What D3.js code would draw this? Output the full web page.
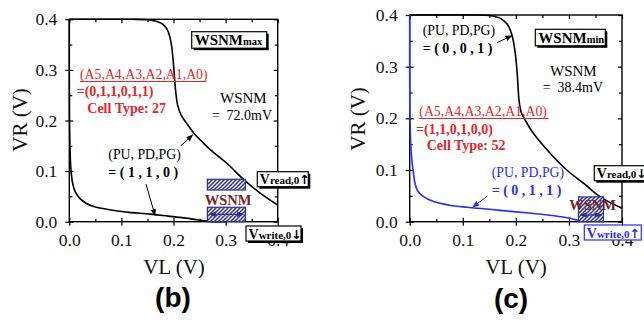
<!DOCTYPE html>
<html>
<head>
<meta charset="utf-8">
<script src="https://cdn.jsdelivr.net/npm/d3@7"></script>
<style>
    body {margin: 0; background: #fff;}
    svg {display: block;}
    text {font-family: "Liberation Serif", "Times New Roman", serif;}
</style>
</head>
<body>
<svg id="chart" width="644" height="322"></svg>
<script>
// ---- data ----
const majorTicks= [0, 0.1, 0.2, 0.3, 0.4]
const minorTicks= [0.05, 0.15, 0.25, 0.35]

// (b) butterfly curves, [VL, VR]
const readB= [[0,0.4],[0.12,0.4],[0.15,0.399],[0.17,0.395],[0.182,0.388],[0.19,0.375],[0.196,0.35],
    [0.2,0.31],[0.204,0.26],[0.208,0.23],[0.215,0.21],[0.227,0.192],[0.239,0.175],[0.255,0.158],
    [0.271,0.142],[0.303,0.115],[0.335,0.083],[0.367,0.056],[0.4,0.033]]
const writeB= [[0,0.4],[0.0003,0.22],[0.0015,0.14],[0.003,0.105],[0.006,0.078],[0.011,0.06],
    [0.021,0.045],[0.033,0.036],[0.047,0.03],[0.07,0.025],[0.092,0.021],[0.12,0.018],[0.155,0.015],
    [0.19,0.011],[0.22,0.0075],[0.245,0.004],[0.262,0.0015],[0.275,0],[0.3,0]]

// (c)
const readC= [[0,0.4],[0.12,0.4],[0.15,0.399],[0.17,0.394],[0.184,0.382],[0.193,0.36],[0.199,0.325],
    [0.203,0.28],[0.206,0.235],[0.21,0.212],[0.218,0.196],[0.233,0.171],[0.265,0.132],[0.296,0.1],
    [0.328,0.074],[0.359,0.048],[0.4,0.026]]
const writeC= [[0,0.4],[0.0003,0.22],[0.002,0.15],[0.004,0.12],[0.007,0.095],[0.01,0.074],
    [0.016,0.058],[0.024,0.05],[0.045,0.039],[0.075,0.032],[0.108,0.028],[0.14,0.025],[0.17,0.022],
    [0.2,0.019],[0.233,0.016],[0.26,0.013],[0.284,0.0097],[0.3,0.007],[0.315,0.0033],[0.338,0]]

// WSNM hatched windows, VL range and VR ranges
const wsnmB= {vl: [0.265, 0.338], boxes: [[0.0626, 0.0838], [0.0, 0.0285]], arrowVR: 0.0146}
const wsnmC= {vl: [0.318, 0.365], boxes: [[0.0, 0.048]], arrowVR: 0.013}

const svg= d3.select("#chart")
const RED= "#e3262d", BLUE= "#2c2cf2", NAVY= "#2f2f96", DARKRED= "#7a1f1f"

// ---- defs: hatch + arrow heads ----
const defs= svg.append("defs")
let pat= defs.append("pattern").attr("id", "hatch")
    .attr("patternUnits", "userSpaceOnUse").attr("width", 4).attr("height", 4)
pat.append("rect").attr("width", 4).attr("height", 4).attr("fill", "#fff")
pat.append("path").attr("d", "M-1,1 L1,-1 M0,4 L4,0 M3,5 L5,3")
    .attr("stroke", NAVY).attr("stroke-width", 1.5)

function marker(id, color) {
    defs.append("marker").attr("id", id)
        .attr("viewBox", "0 0 10 10").attr("refX", 9).attr("refY", 5)
        .attr("markerWidth", 7).attr("markerHeight", 7).attr("orient", "auto-start-reverse")
        .attr("markerUnits", "userSpaceOnUse")
        .append("path").attr("d", "M0,1 L10,5 L0,9 z").attr("fill", color)
}
marker("ah-black", "#000")
marker("ah-blue", BLUE)
marker("ah-navy", NAVY)

// ---- helpers ----
function shadowBox(g, x0, y0, w, h, stroke, shadow=true) {
    if(shadow) {
        g.append("rect").attr("x", x0+2).attr("y", y0+2).attr("width", w).attr("height", h).attr("fill", "#000")
    }
    g.append("rect").attr("x", x0).attr("y", y0).attr("width", w).attr("height", h)
        .attr("fill", "#fff").attr("stroke", stroke).attr("stroke-width", 1.2)
}

function label(g, x0, y0, parts, {color="#000", anchor="start", weight="normal"}={}) {
    let t= g.append("text").attr("x", x0).attr("y", y0).attr("fill", color)
        .attr("text-anchor", anchor).attr("font-weight", weight).style("white-space", "pre")
    parts.forEach(([s, size, extra]) => {
        let sp= t.append("tspan").attr("font-size", size).text(s)
        if(extra) sp.style("font-family", extra)
    })
    return t
}

function drawPanel(p) {
    const x= d3.scaleLinear().domain([0, 0.4]).range([p.left, p.right])
    const y= d3.scaleLinear().domain([0, 0.4]).range([p.bottom, p.top])
    const g= svg.append("g")
    const fmt= d3.format(".1f")

    // axes: labelled ticks crossing the frame, minor ticks inside
    let ax= g.append("g").attr("transform", `translate(0,${p.bottom})`)
    ax.call(d3.axisBottom(x).tickValues(majorTicks).tickSize(4).tickPadding(8).tickFormat(fmt))
    ax.append("g").call(d3.axisBottom(x).tickValues(majorTicks).tickSize(-4).tickFormat(""))
    ax.append("g").call(d3.axisBottom(x).tickValues(minorTicks).tickSize(-3).tickFormat(""))

    let ay= g.append("g").attr("transform", `translate(${p.left},0)`)
    ay.call(d3.axisLeft(y).tickValues(majorTicks).tickSize(4).tickPadding(8).tickFormat(fmt))
    ay.append("g").call(d3.axisLeft(y).tickValues(majorTicks).tickSize(-4).tickFormat(""))
    ay.append("g").call(d3.axisLeft(y).tickValues(minorTicks).tickSize(-3).tickFormat(""))

    let at= g.append("g").attr("transform", `translate(0,${p.top})`)
    at.call(d3.axisTop(x).tickValues(majorTicks).tickSize(-4).tickFormat(""))
    at.append("g").call(d3.axisTop(x).tickValues(minorTicks).tickSize(-3).tickFormat(""))
    let ar= g.append("g").attr("transform", `translate(${p.right},0)`)
    ar.call(d3.axisRight(y).tickValues(majorTicks).tickSize(-4).tickFormat(""))
    ar.append("g").call(d3.axisRight(y).tickValues(minorTicks).tickSize(-3).tickFormat(""))

    g.selectAll(".domain").remove()
    g.selectAll(".tick line").attr("stroke-width", 1.2)
    g.selectAll(".tick text").attr("font-size", 17.5).attr("fill", "#111")

    g.append("rect").attr("x", p.left).attr("y", p.top)
        .attr("width", p.right-p.left).attr("height", p.bottom-p.top)
        .attr("fill", "none").attr("stroke", "#000").attr("stroke-width", 1.4)

    // axis titles
    g.append("text").attr("transform", `translate(${p.yTitle[0]},${p.yTitle[1]}) rotate(-90)`)
        .attr("text-anchor", "middle").attr("dominant-baseline", "central")
        .attr("font-size", 21).attr("fill", "#111").text("VR (V)")
    g.append("text").attr("x", p.xTitle[0]).attr("y", p.xTitle[1]).attr("text-anchor", "middle")
        .attr("font-size", 21).attr("fill", "#111").text("VL (V)")
    g.append("text").attr("x", p.tag[0]).attr("y", p.tag[1]).attr("text-anchor", "middle")
        .attr("font-size", 28).attr("font-weight", "bold")
        .style("font-family", "'Liberation Sans', Arial, sans-serif").text(p.tagText)

    // curves
    const line= d3.line().x(d => x(d[0])).y(d => y(d[1])).curve(d3.curveCatmullRom.alpha(0.5))
    g.append("path").attr("d", line(p.read)).attr("fill", "none").attr("stroke", "#000").attr("stroke-width", 1.6)
    g.append("path").attr("d", line(p.write)).attr("fill", "none").attr("stroke", p.writeColor).attr("stroke-width", 1.6)

    // WSNM window
    p.wsnm.boxes.forEach(b => {
        g.append("rect").attr("x", x(p.wsnm.vl[0])).attr("y", y(b[1]))
            .attr("width", x(p.wsnm.vl[1]) - x(p.wsnm.vl[0])).attr("height", y(b[0]) - y(b[1]))
            .attr("fill", "url(#hatch)").attr("stroke", NAVY).attr("stroke-width", 1.2)
    })
    g.append("line").attr("x1", x(p.wsnm.vl[0])+2).attr("x2", x(p.wsnm.vl[1])-2)
        .attr("y1", y(p.wsnm.arrowVR)).attr("y2", y(p.wsnm.arrowVR))
        .attr("stroke", NAVY).attr("stroke-width", 1.3)
        .attr("marker-start", "url(#ah-navy)").attr("marker-end", "url(#ah-navy)")
    label(g, p.wsnmText[0], p.wsnmText[1], [["WSNM", 14.5]], {color: DARKRED, anchor: "middle", weight: "bold"})

    // pointer arrows to the curves
    p.arrows.forEach(a => {
        g.append("line").attr("x1", x(a.from[0])).attr("y1", y(a.from[1]))
            .attr("x2", x(a.to[0])).attr("y2", y(a.to[1]))
            .attr("stroke", a.color).attr("stroke-width", 1).attr("marker-end", `url(#${a.marker})`)
    })

    // text notes
    p.notes.forEach(n => label(g, n.at[0], n.at[1], n.parts, n.opts))
    p.underlines.forEach(u => g.append("line").attr("x1", u[0]).attr("x2", u[1])
        .attr("y1", u[2]).attr("y2", u[2]).attr("stroke", RED).attr("stroke-width", 1))

    // title boxes
    shadowBox(g, p.titleBox[0], p.titleBox[1], p.titleBox[2], 16.5, "#000")
    label(g, p.titleBox[0]+3, p.titleBox[1]+13.5, [["WSNM", 15], [p.titleSub, 10.5]], {weight: "bold"})

    // Vread / Vwrite boxes
    p.vboxes.forEach(v => {
        shadowBox(g, v.box[0], v.box[1], v.box[2], 15, v.color, v.shadow)
        label(g, v.box[0]+2.5, v.box[1]+12.5, [["V", 14], [v.sub, 11], [v.arrow, 12.5, "'DejaVu Sans'"]],
            {color: v.color, weight: "bold"})
    })
}

// ---- panel (b) ----
drawPanel({
    left: 69.3, right: 277.7, top: 19.3, bottom: 221.7,
    read: readB, write: writeB, writeColor: "#000", wsnm: wsnmB,
    yTitle: [20, 120], xTitle: [174, 274], tag: [173, 307], tagText: "(b)",
    wsnmText: [228, 204.5],
    titleBox: [191.7, 31.7, 75], titleSub: "max",
    arrows: [
        {from: [0.2138, 0.1496], to: [0.2368, 0.1715], color: "#000", marker: "ah-black"},
        {from: [0.1472, 0.0745], to: [0.1645, 0.0125], color: "#000", marker: "ah-black"},
    ],
    notes: [
        {at: [80, 79], parts: [["(A5,A4,A3,A2,A1,A0)", 13.8]], opts: {color: RED}},
        {at: [76.7, 96], parts: [["=(0,1,1,0,1,1)", 14]], opts: {color: RED, weight: "bold"}},
        {at: [87.3, 112.5], parts: [["Cell Type: 27", 14]], opts: {color: RED, weight: "bold"}},
        {at: [220, 102.5], parts: [["WSNM", 15]], opts: {}},
        {at: [211.7, 120], parts: [["=  72.0mV", 14]], opts: {}},
        {at: [108.3, 158.5], parts: [["(PU, PD,PG)", 13.8]], opts: {}},
        {at: [108.3, 176.5], parts: [["= ( 1 , 1 , 0 )", 14]], opts: {weight: "bold"}},
    ],
    underlines: [[80, 206.7, 81.5]],
    vboxes: [
        {box: [257.3, 171.7, 51], sub: "read,0", arrow: "↑", color: "#000", shadow: true},
        {box: [246, 226, 55], sub: "write,0", arrow: "↓", color: "#000", shadow: true},
    ],
})

// ---- panel (c) ----
drawPanel({
    left: 409.7, right: 622, top: 15, bottom: 221.7,
    read: readC, write: writeC, writeColor: BLUE, wsnm: wsnmC,
    yTitle: [358, 119], xTitle: [516, 274], tag: [511, 308], tagText: "(c)",
    wsnmText: [592.5, 209.5],
    titleBox: [535.3, 29.3, 70], titleSub: "min",
    arrows: [
        {from: [0.1642, 0.3464], to: [0.1925, 0.3599], color: "#000", marker: "ah-black"},
        {from: [0.1464, 0.0497], to: [0.1189, 0.0285], color: BLUE, marker: "ah-blue"},
    ],
    notes: [
        {at: [422.7, 35], parts: [["(PU, PD,PG)", 13.8]], opts: {}},
        {at: [422.7, 52.5], parts: [["= ( 0 , 0 , 1 )", 14]], opts: {weight: "bold"}},
        {at: [550, 75.5], parts: [["WSNM", 15]], opts: {}},
        {at: [542.7, 92], parts: [["=  38.4mV", 14]], opts: {}},
        {at: [419.3, 116], parts: [["(A5,A4,A3,A2,A1,A0)", 13.8]], opts: {color: RED}},
        {at: [416, 133.5], parts: [["=(1,1,0,1,0,0)", 14]], opts: {color: RED, weight: "bold"}},
        {at: [426.7, 149.5], parts: [["Cell Type: 52", 14]], opts: {color: RED, weight: "bold"}},
        {at: [491.7, 176.5], parts: [["(PU, PD,PG)", 13.8]], opts: {color: BLUE}},
        {at: [491.7, 194.5], parts: [["= ( 0 , 1 , 1 )", 14]], opts: {color: BLUE, weight: "bold"}},
    ],
    underlines: [[419.3, 548.7, 118.5]],
    vboxes: [
        {box: [594.3, 165.7, 52], sub: "read,0", arrow: "↓", color: "#000", shadow: true},
        {box: [584.3, 225, 57], sub: "write,0", arrow: "↑", color: BLUE, shadow: false},
    ],
})
</script>
</body>
</html>
